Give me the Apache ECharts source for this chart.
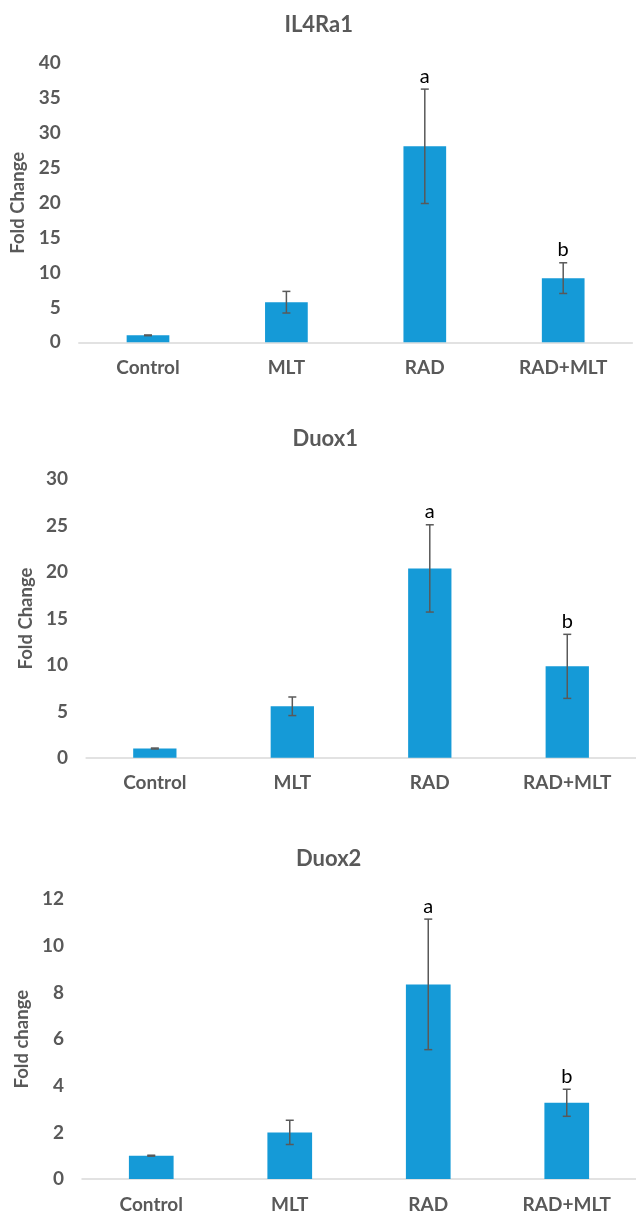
<!DOCTYPE html>
<html>
<head>
<meta charset="utf-8">
<script src="https://cdn.jsdelivr.net/npm/echarts@6/dist/echarts.min.js"></script>
<style>
  html, body { margin: 0; padding: 0; background: #ffffff; }
  #chart { width: 636px; height: 1215px; }
</style>
</head>
<body>
<div id="chart"></div>
<script>
const categories = ['Control', 'MLT', 'RAD', 'RAD+MLT'];
const sigLetters = ['', '', 'a', 'b'];

const panelTitles = ['IL4Ra1', 'Duox1', 'Duox2'];
const axisNames = ['Fold Change', 'Fold Change', 'Fold change'];

const il4ra1Mean = [1.0, 5.75, 28.1, 9.2];
const il4ra1Err  = [0.05, 1.55, 8.2, 2.2];

const duox1Mean = [1.0, 5.55, 20.4, 9.85];
const duox1Err  = [0.05, 1.0, 4.7, 3.45];

const duox2Mean = [1.0, 2.0, 8.35, 3.27];
const duox2Err  = [0.02, 0.52, 2.8, 0.58];

const yMax = [40, 30, 12];
const yInterval = [5, 5, 2];

const means = [il4ra1Mean, duox1Mean, duox2Mean];
const errs = [il4ra1Err, duox1Err, duox2Err];

// layout (pixels)
const grids = [
  { left: 78.8, top: 63.3, width: 553.6, height: 279.0 },
  { left: 86.1, top: 479.3, width: 553.4, height: 278.5 },
  { left: 82.0, top: 899.3, width: 567.8, height: 279.7 }
];
const titlePos = [[318.7, 24.5], [325.3, 439.0], [328.7, 859.0]];
const barWidths = [42.7, 43.3, 44.7];

const GRAY = '#595959';
const BLUE = '#159ad7';
const FONT = 'Lato, "Open Sans", sans-serif';

function makeErrRender(panel) {
  return function (params, api) {
    const x = api.value(0);
    const m = api.value(1);
    const e = api.value(2);
    const hi = api.coord([x, m + e]);
    const lo = api.coord([x, m - e]);
    const cap = 4;
    const style = { stroke: GRAY, lineWidth: 1.5 };
    const children = [
      { type: 'line', shape: { x1: hi[0], y1: hi[1], x2: lo[0], y2: lo[1] }, style: style },
      { type: 'line', shape: { x1: hi[0] - cap, y1: hi[1], x2: hi[0] + cap, y2: hi[1] }, style: style },
      { type: 'line', shape: { x1: lo[0] - cap, y1: lo[1], x2: lo[0] + cap, y2: lo[1] }, style: style }
    ];
    const letter = sigLetters[params.dataIndex];
    if (letter) {
      children.push({
        type: 'text',
        x: hi[0],
        y: hi[1] - 13,
        style: {
          text: letter,
          align: 'center',
          verticalAlign: 'middle',
          fill: '#000000',
          font: 'normal 20px ' + FONT
        }
      });
    }
    return { type: 'group', children: children };
  };
}

const option = {
  animation: false,
  backgroundColor: '#ffffff',
  textStyle: { fontFamily: FONT },
  title: panelTitles.map((t, i) => ({
    text: t,
    left: titlePos[i][0],
    top: titlePos[i][1],
    padding: 0,
    textAlign: 'center',
    textVerticalAlign: 'middle',
    textStyle: { fontSize: 22, fontWeight: 'bold', color: GRAY, fontFamily: FONT }
  })),
  grid: grids.map(g => Object.assign({ containLabel: false }, g)),
  xAxis: grids.map((g, i) => ({
    type: 'category',
    gridIndex: i,
    data: categories,
    axisTick: { show: false },
    axisLine: { show: true, lineStyle: { color: '#d9d9d9', width: 1.5 } },
    axisLabel: { fontSize: 19, fontWeight: 'bold', color: GRAY, margin: 16, fontFamily: FONT, interval: 0 },
    splitLine: { show: false }
  })),
  yAxis: grids.map((g, i) => ({
    type: 'value',
    gridIndex: i,
    min: 0,
    max: yMax[i],
    interval: yInterval[i],
    name: axisNames[i],
    nameLocation: 'middle',
    nameGap: 48,
    nameTextStyle: { fontSize: 18.5, fontWeight: 'bold', color: GRAY, fontFamily: FONT },
    axisLine: { show: false },
    axisTick: { show: false },
    splitLine: { show: false },
    axisLabel: { fontSize: 19, fontWeight: 'bold', color: GRAY, margin: 18, fontFamily: FONT }
  })),
  series: []
};

for (let i = 0; i < 3; i++) {
  option.series.push({
    type: 'bar',
    xAxisIndex: i,
    yAxisIndex: i,
    data: means[i],
    barWidth: barWidths[i],
    itemStyle: { color: BLUE },
    z: 2
  });
  option.series.push({
    type: 'custom',
    xAxisIndex: i,
    yAxisIndex: i,
    renderItem: makeErrRender(i),
    data: categories.map((c, k) => [k, means[i][k], errs[i][k]]),
    encode: { x: 0, y: 1 },
    z: 5
  });
}

const chart = echarts.init(document.getElementById('chart'), null, { renderer: 'canvas' });
chart.setOption(option);
</script>
</body>
</html>
